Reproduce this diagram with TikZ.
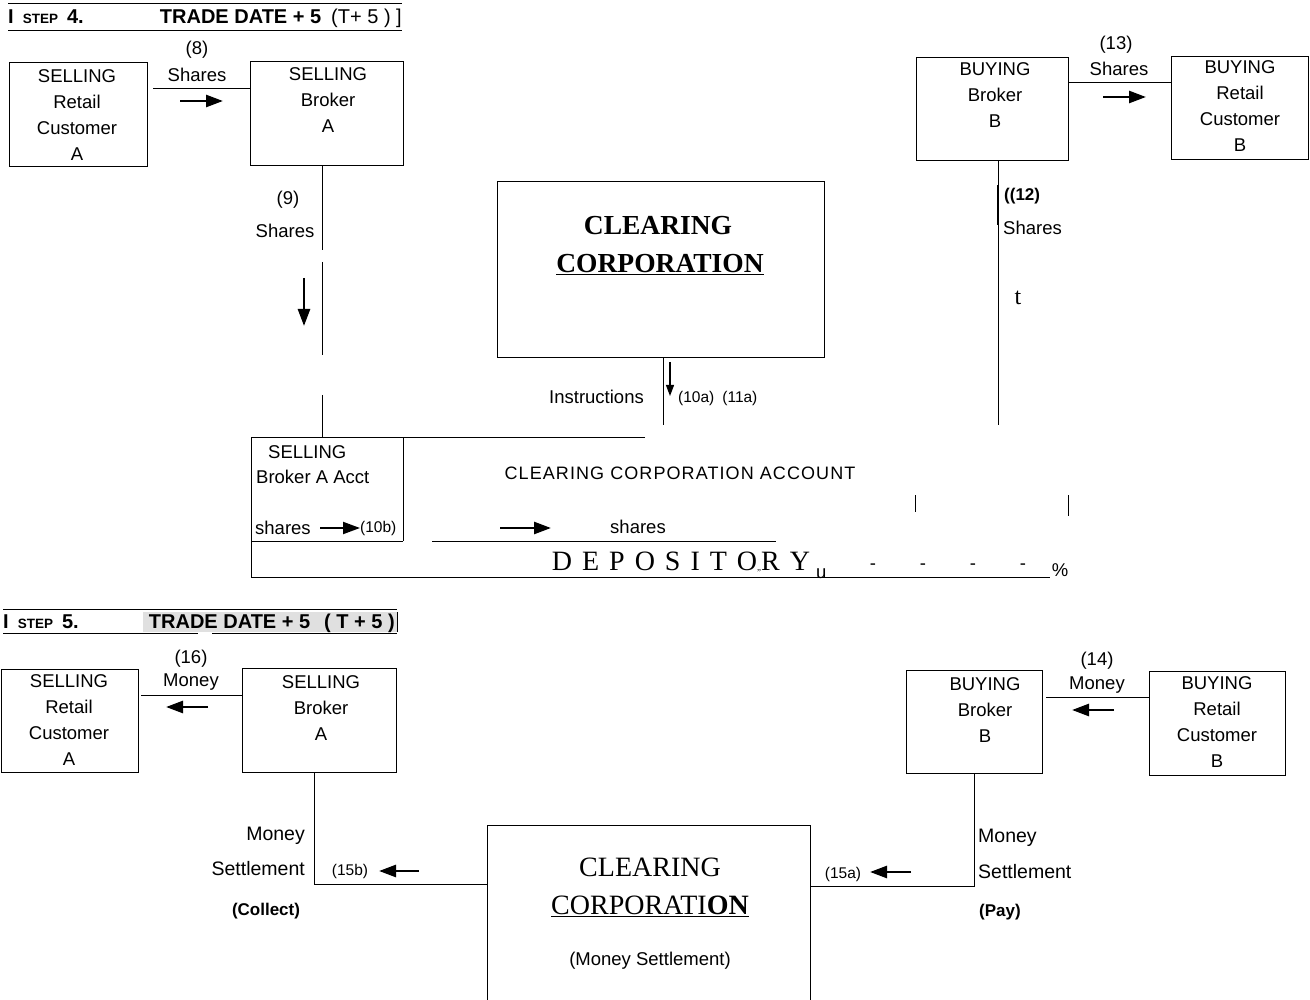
\documentclass[tikz,border=0pt]{standalone}
\usepackage{fontspec}
\setmainfont{Liberation Sans}
\newfontfamily\seriffont{Liberation Serif}
\usetikzlibrary{arrows.meta,calc}
\begin{document}
\begin{tikzpicture}[x=1pt,y=-1pt,
  box/.style={draw,line width=0.9pt,inner sep=0pt},
  txt/.style={inner sep=0pt,align=center,font=\fontsize{18.5}{26}\selectfont},
  lab/.style={inner sep=0pt,align=center,font=\fontsize{19.5}{26}\selectfont},
  sm/.style={inner sep=0pt,font=\fontsize{15.5}{18}\selectfont},
  ln/.style={line width=0.9pt},
  arr/.style={line width=2.6pt,-{Triangle[length=17pt,width=12pt]}},
  sarr/.style={line width=1.2pt,-{Triangle[length=11pt,width=8pt]}},
  bigser/.style={inner sep=0pt,font=\seriffont\fontsize{27.5}{28}\selectfont\bfseries},
  regser/.style={inner sep=0pt,font=\seriffont\fontsize{28}{28}\selectfont},
  hdr/.style={inner sep=0pt,font=\fontsize{20}{22}\selectfont},
]
\useasboundingbox (0,0) rectangle (1310,1000);

% ---------------- STEP 4 header
\draw[ln] (8,3) -- (402,3);
\draw[ln] (8,30) -- (402,30);
\node[hdr,anchor=base west,font=\fontsize{20}{22}\selectfont\bfseries] (h4a) at (8,24) {I\hspace{9pt}{\fontsize{13.5}{13}\selectfont STEP}\hspace{9pt}4.};
\node[hdr,anchor=base east] (h4b) at (402,24) {\textbf{TRADE DATE + 5}\hspace{10pt}(T+ 5 ) ]};

% ---------------- STEP 4 boxes
\node[box,minimum width=138,minimum height=104] (ra4) at (78,114) {};
\node[txt] (ra4t) at (77,115) {SELLING\\Retail\\Customer\\A};
\node[box,minimum width=153,minimum height=104] (ba4) at (326.5,113) {};
\node[txt] (ba4t) at (328,100) {SELLING\\Broker\\A};
\node[box,minimum width=327,minimum height=176] (cc4) at (660.5,269) {};
\node[bigser] (cc4a) at (658,226) {CLEARING};
\node[bigser] (cc4b) at (660,265) {\underline{CORPORATION}};
\node[box,minimum width=152,minimum height=103] (bb4) at (992,108.5) {};
\node[txt] (bb4t) at (995,95.5) {BUYING\\Broker\\B};
\node[box,minimum width=137,minimum height=103] (rb4) at (1239.5,107.5) {};
\node[txt] (rb4t) at (1240,106.5) {BUYING\\Retail\\Customer\\B};

% (8) shares
\node[txt] (l8) at (197,50) {(8)};
\node[txt] (l8s) at (197,75) {Shares};
\coordinate (c8) at (153,88);
\draw[ln] (c8) -- (ba4.west |- c8);
\draw[arr] (180,101) -- (223,101);

% (13) shares
\node[txt] (l13) at (1116,45) {(13)};
\node[txt] (l13s) at (1119,69) {Shares};
\coordinate (c13) at (1068,82);
\draw[ln] (bb4.east |- c13) -- (rb4.west |- c13);
\draw[arr] (1103,97) -- (1146,97);

% (9) shares down to depository
\coordinate (x322) at (322,437);
\draw[ln] (ba4.south -| x322) -- (322,250);
\draw[ln] (322,262) -- (322,355);
\draw[ln] (322,395) -- (x322);
\node[txt] (l9) at (288,200) {(9)};
\node[txt] (l9s) at (285,231) {Shares};
\draw[arr] (304,278) -- (304,326);

% instructions
\coordinate (x663) at (663,425);
\draw[ln] (cc4.south -| x663) -- (x663);
\draw[sarr] (670,362) -- (670,396);
\node[txt,anchor=east] (linst) at (644,397) {Instructions};
\node[sm,anchor=west] (l10a) at (678,398) {(10a)\hspace{8pt}(11a)};

% (12) shares
\coordinate (x998) at (998,425);
\draw[ln] (bb4.south -| x998) -- (x998);
\draw[line width=1.8pt] (998,185) -- (998,225);
\node[txt,anchor=west,font=\fontsize{17}{20}\selectfont\bfseries] (l12) at (1004,196) {((12)};
\node[txt,anchor=west] (l12s) at (1003,228) {Shares};
\node[inner sep=0pt,font=\seriffont\fontsize{24}{24}\selectfont] (lt) at (1018,298) {t};

% ---------------- depository
\draw[ln] (645,437) -- (251,437) -- (251,577) -- (1050,577);
\draw[ln] (403,437) -- (403,541);
\draw[ln] (251,541) -- (403,541);
\node[txt,anchor=west] (acc1) at (268,452) {SELLING};
\node[txt,anchor=west] (acc2) at (256,477) {Broker A Acct};
\node[txt,anchor=west] (acc3) at (255,528) {shares};
\draw[arr,line width=2pt] (320,528) -- (360,528);
\node[sm,anchor=west] (l10b) at (360,528) {(10b)};
\node[txt,font=\fontsize{18}{26}\selectfont\addfontfeatures{LetterSpace=6}] (ccacc) at (680,473) {CLEARING CORPORATION ACCOUNT};
\draw[arr] (500,528) -- (551,528);
\node[txt] (sh2) at (638,527) {shares};
\draw[ln] (432,541) -- (776,541);
\node[inner sep=0pt,font=\seriffont\fontsize{28}{28}\selectfont,anchor=base] (dep) at (681,570) {D\hspace{10pt}E\hspace{10pt}P\hspace{10pt}O\hspace{10pt}S\hspace{10pt}I\hspace{10pt}T\hspace{10pt}O{\fontsize{9}{9}\selectfont„}R\hspace{10pt}Y};
\node[txt,anchor=west] (depu) at (816,574) {u};
\foreach \xx [count=\i] in {873,923,973,1023} {
  \node[txt] (dash\i) at (\xx,567) {-};
}
\node[txt] (pct) at (1060,570) {\%};
\draw[ln] (915,495) -- (915,512);
\draw[ln] (1068,495) -- (1068,516);

% ---------------- STEP 5 header
\draw[ln] (3,609) -- (397,609);
\draw[ln] (3,633) -- (198,633);
\draw[ln] (212,633) -- (397,633);
\node[hdr,anchor=base west,font=\fontsize{20}{22}\selectfont\bfseries] (h5a) at (3,628) {I\hspace{9pt}{\fontsize{13.5}{13}\selectfont STEP}\hspace{9pt}5.};
\fill[black!12] (143,612) rectangle (397,632);
\node[hdr,anchor=base east,font=\fontsize{20}{22}\selectfont\bfseries] (h5b) at (395,628) {TRADE DATE + 5\hspace{14pt}( T + 5 )};
\draw[ln] (397,612) -- (397,632);

% ---------------- STEP 5 boxes
\node[box,minimum width=137,minimum height=103] (ra5) at (69.5,720.5) {};
\node[txt] (ra5t) at (69,720.5) {SELLING\\Retail\\Customer\\A};
\node[box,minimum width=154,minimum height=104] (ba5) at (319,720) {};
\node[txt] (ba5t) at (321,708) {SELLING\\Broker\\A};
\node[box,minimum width=136,minimum height=103] (bb5) at (974,721.5) {};
\node[txt] (bb5t) at (985,710) {BUYING\\Broker\\B};
\node[box,minimum width=136,minimum height=104] (rb5) at (1217,723) {};
\node[txt] (rb5t) at (1217,722.5) {BUYING\\Retail\\Customer\\B};

% (16) money
\node[txt] (l16) at (191,659) {(16)};
\node[txt] (l16m) at (191,682) {Money};
\coordinate (c16) at (141,695);
\draw[ln] (c16) -- (ba5.west |- c16);
\draw[arr] (208,707) -- (166,707);

% (14) money
\node[txt] (l14) at (1097,661) {(14)};
\node[txt] (l14m) at (1097,685) {Money};
\coordinate (c14) at (1046,697);
\draw[ln] (c14) -- (rb5.west |- c14);
\draw[arr] (1114,710) -- (1072,710);

% clearing corporation (money)
\coordinate (cc5nw) at (487,825);
\coordinate (cc5ne) at (810,825);
\draw[ln] (487,1000) -- (cc5nw) -- (cc5ne) -- (810,1000);
\node[regser] (cc5a) at (650,867) {CLEARING};
\node[regser] (cc5b) at (650,906) {\underline{CORPORATI\textbf{ON}}};
\node[txt] (cc5c) at (650,961) {(Money Settlement)};

% (15b)
\coordinate (x314) at (314,884);
\draw[ln] (ba5.south -| x314) -- (x314) -- (x314 -| cc5nw);
\node[lab,anchor=east] (l15m) at (305,836) {Money};
\node[lab,anchor=east] (l15s) at (305,869) {Settlement};
\node[txt,font=\fontsize{17}{20}\selectfont\bfseries] (l15c) at (266,911) {(Collect)};
\node[sm] (l15b) at (350,871) {(15b)};
\draw[arr] (419,871) -- (379,871);

% (15a)
\coordinate (x974) at (974,886);
\draw[ln] (bb5.south -| x974) -- (x974) -- (x974 -| cc5ne);
\node[lab,anchor=west] (l15am) at (978,838) {Money};
\node[lab,anchor=west] (l15as) at (978,872) {Settlement};
\node[txt,font=\fontsize{17}{20}\selectfont\bfseries] (l15p) at (1000,912) {(Pay)};
\node[sm] (l15a) at (843,874) {(15a)};
\draw[arr] (911,872) -- (870,872);

\end{tikzpicture}
\end{document}
